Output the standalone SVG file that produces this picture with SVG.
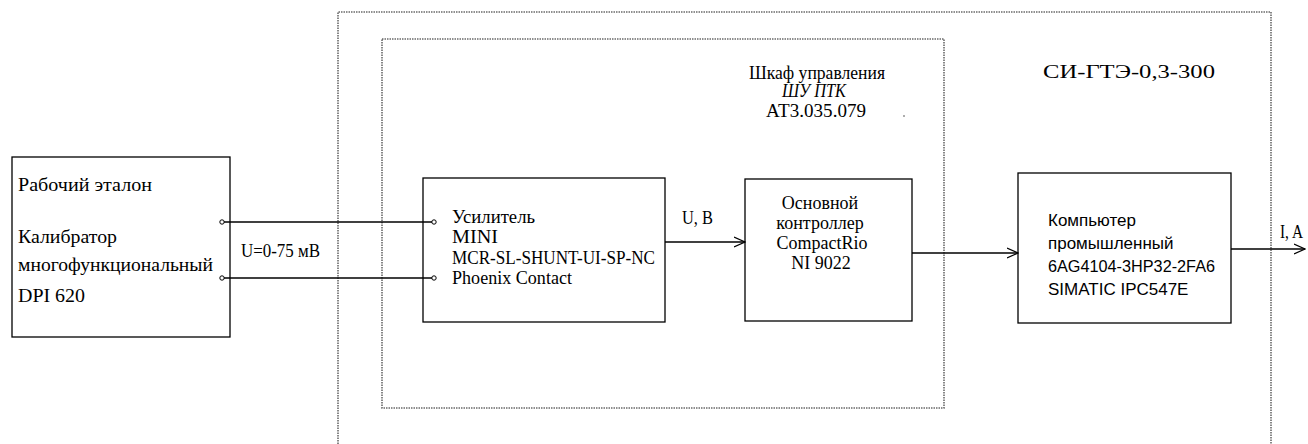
<svg xmlns="http://www.w3.org/2000/svg" width="1308" height="444" viewBox="0 0 1308 444">
<defs>
<style>
.frame{fill:none;stroke:#6a6a6a;stroke-width:1.6;stroke-dasharray:1.5 1}
.box{fill:#fff;stroke:#000;stroke-width:1.3}
.ser{font-family:"Liberation Serif","DejaVu Serif","Times New Roman",serif;font-size:18px;fill:#000}
.sans{font-family:"Liberation Sans","DejaVu Sans",Arial,sans-serif;font-size:17px;fill:#000}
.wire{fill:none;stroke:#000;stroke-width:1.3}
.term{fill:#fff;stroke:#000;stroke-width:1}
</style>
<marker id="arr" viewBox="0 0 12 12" refX="11" refY="6" markerWidth="12" markerHeight="12" markerUnits="userSpaceOnUse" orient="auto">
<path d="M0,1 L11,6 L0,11" fill="none" stroke="#000" stroke-width="1.2"/>
</marker>
</defs>
<rect width="1308" height="444" fill="#fff"/>

<g id="system">
<path class="frame" d="M338,444 L338,12 L1271,12 L1271,444"/>
<text class="ser" x="1043" y="78" font-size="24" textLength="172" lengthAdjust="spacingAndGlyphs">СИ-ГТЭ-0,3-300</text>
</g>

<g id="cabinet">
<rect class="frame" x="382" y="39" width="562" height="369"/>
<text class="ser" x="749" y="79" font-size="17" textLength="136" lengthAdjust="spacingAndGlyphs">Шкаф управления</text>
<text class="ser" x="782" y="97" font-size="17" font-style="italic" textLength="64" lengthAdjust="spacingAndGlyphs">ШУ ПТК</text>
<text class="ser" x="766" y="117" font-size="17" textLength="100" lengthAdjust="spacingAndGlyphs">АТ3.035.079</text>
<circle cx="904" cy="116" r="0.8" fill="#444"/>
</g>

<g id="etalon">
<rect class="box" x="12" y="157" width="218" height="180"/>
<text class="ser" x="18" y="191" textLength="134" lengthAdjust="spacingAndGlyphs">Рабочий эталон</text>
<text class="ser" x="18" y="243" textLength="99" lengthAdjust="spacingAndGlyphs">Калибратор</text>
<text class="ser" x="18" y="271" textLength="195" lengthAdjust="spacingAndGlyphs">многофункциональный</text>
<text class="ser" x="18" y="302" textLength="67" lengthAdjust="spacingAndGlyphs">DPI 620</text>
</g>

<g id="amplifier">
<rect class="box" x="423" y="178" width="242" height="144"/>
<text class="ser" x="452" y="223" font-size="17" textLength="83" lengthAdjust="spacingAndGlyphs">Усилитель</text>
<text class="ser" x="452" y="243" font-size="17" textLength="46" lengthAdjust="spacingAndGlyphs">MINI</text>
<text class="ser" x="452" y="264" font-size="17" textLength="203" lengthAdjust="spacingAndGlyphs">MCR-SL-SHUNT-UI-SP-NC</text>
<text class="ser" x="452" y="284" font-size="17" textLength="120" lengthAdjust="spacingAndGlyphs">Phoenix Contact</text>
</g>

<g id="controller">
<rect class="box" x="745" y="179" width="167" height="142"/>
<text class="ser" x="820" y="209" font-size="15.5" text-anchor="middle">Основной</text>
<text class="ser" x="820" y="229" font-size="15.5" text-anchor="middle">контроллер</text>
<text class="ser" x="822" y="249" font-size="15.5" text-anchor="middle">CompactRio</text>
<text class="ser" x="821" y="269" font-size="15.5" text-anchor="middle">NI 9022</text>
</g>

<g id="computer">
<rect class="box" x="1018" y="173" width="213" height="150"/>
<text class="sans" x="1048" y="226">Компьютер</text>
<text class="sans" x="1048" y="249">промышленный</text>
<text class="sans" x="1048" y="272" textLength="167" lengthAdjust="spacingAndGlyphs">6AG4104-3HP32-2FA6</text>
<text class="sans" x="1048" y="295">SIMATIC IPC547E</text>
</g>

<g id="connectors">
<line class="wire" x1="222" y1="222" x2="434" y2="222"/>
<line class="wire" x1="222" y1="278" x2="434" y2="278"/>
<circle class="term" cx="222" cy="222" r="2.2"/>
<circle class="term" cx="222" cy="278" r="2.2"/>
<circle class="term" cx="434" cy="222" r="2.2"/>
<circle class="term" cx="434" cy="278" r="2.2"/>
<text class="ser" x="241" y="257" font-size="16" textLength="79" lengthAdjust="spacingAndGlyphs">U=0-75 мВ</text>
<line class="wire" x1="665" y1="242" x2="745" y2="242" marker-end="url(#arr)"/>
<text class="ser" x="682" y="224" font-size="17" textLength="31" lengthAdjust="spacingAndGlyphs">U, B</text>
<line class="wire" x1="912" y1="253" x2="1018" y2="253" marker-end="url(#arr)"/>
<line class="wire" x1="1231" y1="249" x2="1305" y2="249" marker-end="url(#arr)"/>
<text class="ser" x="1280" y="238" font-size="16" textLength="23" lengthAdjust="spacingAndGlyphs">I, A</text>
</g>
</svg>
